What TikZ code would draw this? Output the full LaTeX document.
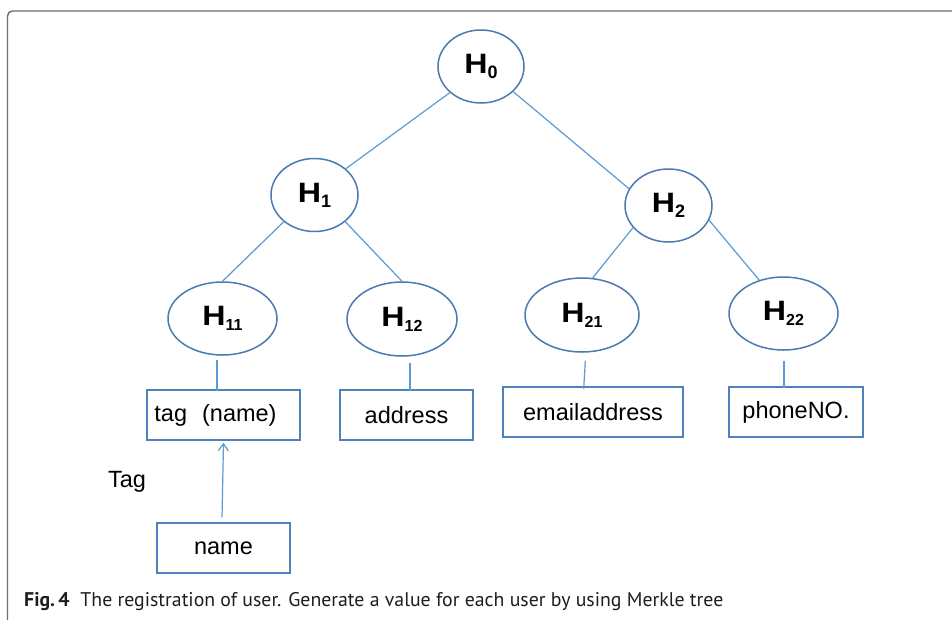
\documentclass[tikz,border=0pt]{standalone}
\usepackage{fontspec}
\setmainfont{Liberation Sans}
\newfontfamily\capfont{PT Sans}
\usetikzlibrary{shapes.geometric,arrows.meta}
\definecolor{ellc}{RGB}{74,122,176}
\definecolor{edgec}{RGB}{91,155,213}
\definecolor{boxc}{RGB}{79,129,189}
\definecolor{framec}{RGB}{110,110,110}
\definecolor{capc}{RGB}{30,30,30}
\newcommand\Hs[2]{\scalebox{1.15}[1]{\fontsize{28}{28}\selectfont\bfseries H}\raisebox{-5pt}{\fontsize{#2}{18}\selectfont\bfseries #1}}
\begin{document}
\begin{tikzpicture}[x=1pt,y=-1pt,
  hnode/.style={ellipse,draw=ellc,line width=1.5pt,inner sep=0pt,minimum height=73pt},
  leaf/.style={rectangle,draw=boxc,line width=1.4pt,minimum height=50pt,inner sep=0pt,font=\fontsize{23.5}{27}\selectfont},
  edge/.style={draw=edgec,line width=1.2pt}]
\useasboundingbox (0,0) rectangle (952,619);
\fill[white] (0,0) rectangle (952,619);
\draw[framec,line width=1.4pt,rounded corners=5pt] (7.5,640) -- (7.5,11) -- (970,11);
% hash nodes
\node[hnode,minimum width=86pt] (H0) at (481,66.5) {\Hs{0}{18}};
\node[hnode,minimum width=87pt] (H1) at (314.5,195) {\Hs{1}{18}};
\node[hnode,minimum width=87pt] (H2) at (668.5,205.5) {\Hs{2}{18}};
\node[hnode,minimum width=109pt] (H11) at (222.5,318.5) {\Hs{11}{16}};
\node[hnode,minimum width=110pt,minimum height=74pt] (H12) at (402,319) {\Hs{12}{16}};
\node[hnode,minimum width=114pt,minimum height=74pt] (H21) at (582,315) {\Hs{21}{16}};
\node[hnode,minimum width=109pt] (H22) at (783.5,313.5) {\Hs{22}{16}};
% data boxes
\node[leaf,minimum width=153pt] (tag) at (223.5,415) {tag\kern15pt(name)\kern16pt};
\node[leaf,minimum width=133pt] (addr) at (406.5,415) {address};
\node[leaf,minimum width=180pt] (email) at (593,412) {emailaddress};
\node[leaf,minimum width=134pt] (phone) at (796,412) {phoneNO.};
\node[leaf,minimum width=133pt] (name) at (223.5,548) {name};
\node[font=\fontsize{23.5}{27}\selectfont] (taglbl) at (127,482) {Tag};
% tree edges
\draw[edge] (H0.220) -- (H1.40);
\draw[edge] (H0.322) -- (H2.157);
\draw[edge] (H1.221) -- (H11.north);
\draw[edge] (H1.319) -- (H12.north);
\draw[edge] (H2.212) -- (H21.74);
\draw[edge] (H2.340) -- (H22.126);
% leaf links
\draw[edge] ([xshift=-5.5pt,yshift=-4pt]H11.south) -- ++(0,31);
\draw[edge] ([xshift=8pt,yshift=-6pt]H12.south) -- ++(0,28);
\draw[edge] ([xshift=3.3pt,yshift=-8pt]H21.south) -- ++(-1.6,28);
\draw[edge] ([xshift=0.5pt,yshift=-10pt]H22.south) -- ++(0,27);
\draw[edge,-{Straight Barb[length=7pt,width=10pt]}] ([xshift=-1.5pt,yshift=5pt]name.north) -- ([yshift=-2pt]tag.south);
% caption
\node[anchor=base west,inner sep=0pt,text=capc,font=\capfont\fontsize{19.8}{22}\selectfont] (cap) at (24,606.7) {\textbf{Fig.\,4}\hspace{0.55em}The registration of user. Generate a value for each user by using Merkle tree};
\end{tikzpicture}
\end{document}
